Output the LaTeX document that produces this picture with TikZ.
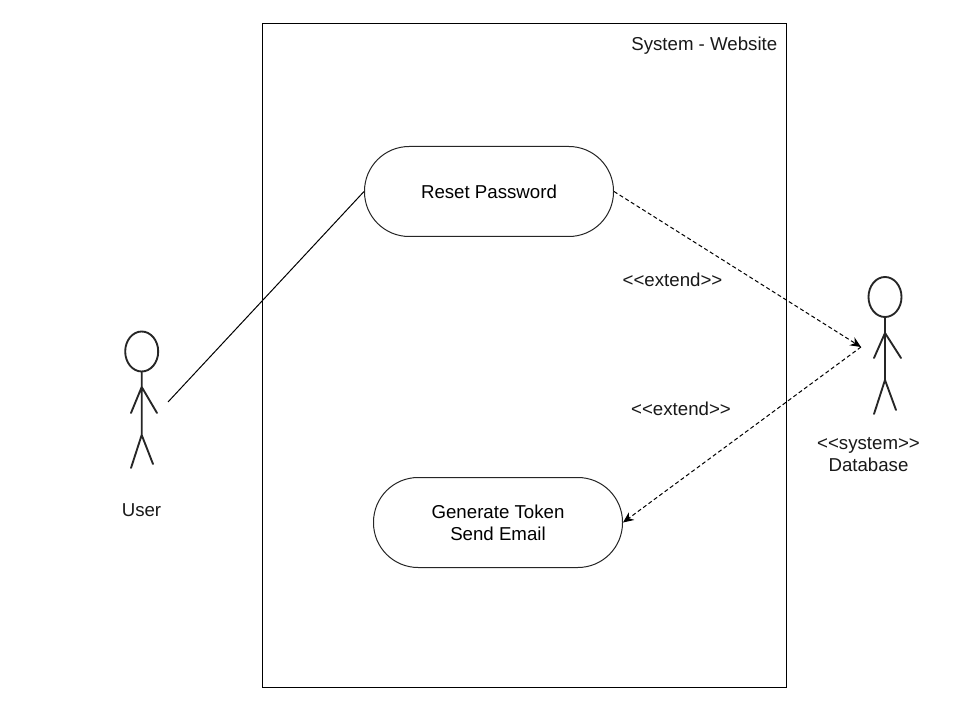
\documentclass[tikz,border=0pt]{standalone}
\usepackage{fontspec}
\setmainfont{Liberation Sans}
\usetikzlibrary{arrows.meta,shapes.geometric}
\tikzset{
  px/.style={x=0.75pt,y=-0.75pt},
  usecase/.style={draw=black!85,rounded corners=33.5pt,line width=0.75pt,fill=white,minimum width=186.75pt,minimum height=67.5pt,inner sep=0pt,align=center,font=\fontsize{14pt}{16.5pt}\selectfont},
  lbl/.style={inner sep=0pt,align=center,font=\fontsize{14pt}{16.5pt}\selectfont,text=black!90},
  headshape/.style={draw=black!85,line width=1.4pt,ellipse,minimum width=24.75pt,minimum height=30pt,inner sep=0pt},
  stick/.style={draw=black!85,line width=1.4pt,line cap=round},
  assoc/.style={draw=black,line width=0.75pt},
  ext/.style={draw=black,line width=0.75pt,dash pattern=on 3pt off 2pt,-{Stealth[length=8pt,width=7pt]}}
}
\begin{document}
\begin{tikzpicture}[px]
\useasboundingbox (0,0) rectangle (960,720);
\fill[white] (0,0) rectangle (960,720);
\node[draw=black,line width=0.75pt,minimum width=393pt,minimum height=498pt,inner sep=0pt] (sys) at (524.5,355.5) {};
\node[lbl,anchor=east] (systitle) at (777.5,45.5) {System - Website};
\node[usecase] (reset) at (489,191.5) {\raisebox{-0.75pt}{Reset Password}};
\node[usecase] (gen) at (498,522.5) {\raisebox{-0.75pt}{Generate Token}\\\raisebox{-0.75pt}{Send Email}};
% user
\node[headshape] (uhead) at (141.7,351.5) {};
\coordinate (uneck) at (uhead.south);
\coordinate (ujoint) at (141.7,387);
\coordinate (uhip) at (141.7,435);
\coordinate (ularm) at (131,413);
\coordinate (urarm) at (157,413);
\coordinate (ulleg) at (131,468);
\coordinate (urleg) at (153,464);
\coordinate (uhand) at (168,402);
\draw[stick] (uneck) -- (uhip) (ularm) -- (ujoint) -- (urarm) (ulleg) -- (uhip) -- (urleg);
\node[lbl] (user) at (141.5,510) {User};
% database
\node[headshape] (dhead) at (885,297) {};
\coordinate (dneck) at (dhead.south);
\coordinate (djoint) at (885,333);
\coordinate (dhip) at (885,380);
\coordinate (dlarm) at (874,358);
\coordinate (drarm) at (901,358);
\coordinate (dlleg) at (874,414);
\coordinate (drleg) at (896,410);
\coordinate (dhand) at (861,347);
\draw[stick] (dneck) -- (dhip) (dlarm) -- (djoint) -- (drarm) (dlleg) -- (dhip) -- (drleg);
\node[lbl] (db) at (868.5,455) {<{}<system>{}>\\Database};
% connectors
\draw[assoc] (uhand) -- (reset.west);
\draw[ext] (reset.east) -- (dhand);
\draw[ext] (dhand) -- (gen.east);
\node[lbl] (e1) at (672.5,280) {<{}<extend>{}>};
\node[lbl] (e2) at (681,409) {<{}<extend>{}>};
\end{tikzpicture}
\end{document}
